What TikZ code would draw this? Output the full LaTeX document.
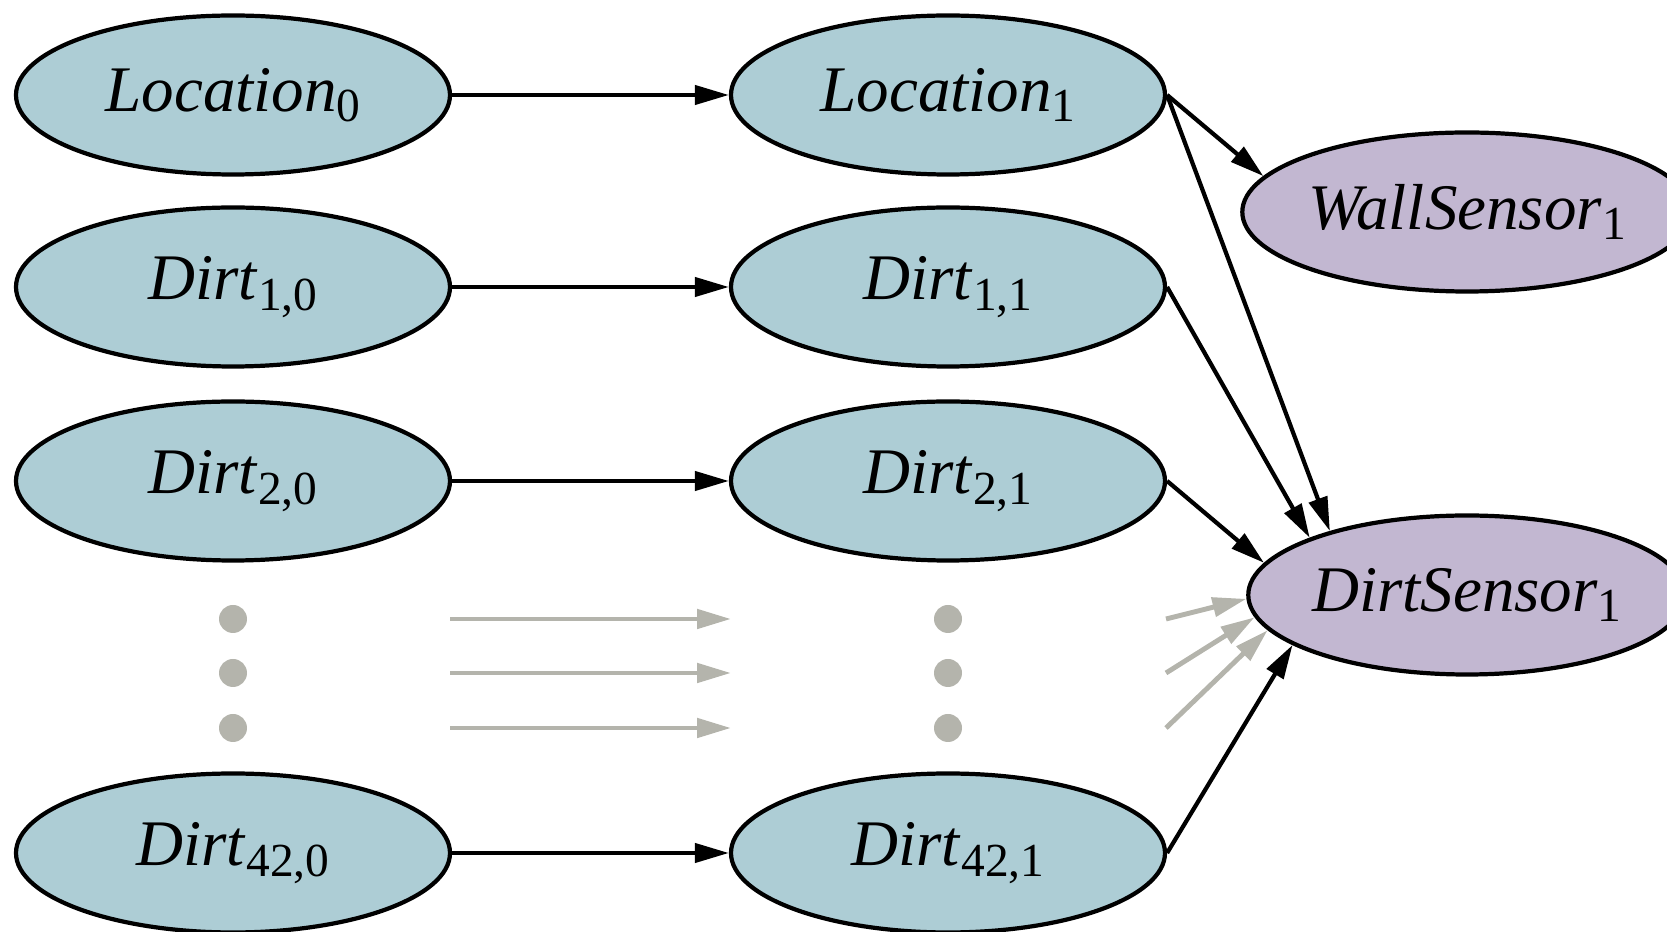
\documentclass[tikz,border=0pt]{standalone}
\usepackage{fontspec}
\setmainfont{Liberation Serif}
\usetikzlibrary{arrows.meta, shapes.geometric}
\definecolor{nodeblue}{RGB}{173,205,213}
\definecolor{nodelilac}{RGB}{194,183,209}
\definecolor{fadegray}{RGB}{180,180,172}
\newcommand{\varlbl}[2]{\textit{#1}\raisebox{-3pt}{\fontsize{13.5}{14}\selectfont #2}}

\begin{document}
\begin{tikzpicture}[font=\fontsize{18.5}{22}\selectfont,
    var/.style={ellipse, draw, line width=1.2pt, fill=nodeblue,
                minimum width=4.34cm, minimum height=1.59cm, inner sep=0pt},
    obs/.style={var, fill=nodelilac},
    edge/.style={-{Triangle[length=3.4mm, width=1.9mm]}, line width=1.2pt},
    faded/.style={edge, fadegray, line width=1.4pt},
    gdot/.style={circle, fill=fadegray, inner sep=0pt, minimum size=0.28cm}]
  \useasboundingbox (0,0) rectangle (16.67,9.32);
  % time slice 0
  \node[var] (loc0) at (2.33, 8.37) {\varlbl{Location}{0}};
  \node[var] (d10) at (2.33, 6.45) {\varlbl{Dirt}{1,0}};
  \node[var] (d20) at (2.33, 4.51) {\varlbl{Dirt}{2,0}};
  \node[var] (d420) at (2.33, 0.79) {\varlbl{Dirt}{42,0}};
  % time slice 1
  \node[var] (loc1) at (9.48, 8.37) {\varlbl{Location}{1}};
  \node[var] (d11) at (9.48, 6.45) {\varlbl{Dirt}{1,1}};
  \node[var] (d21) at (9.48, 4.51) {\varlbl{Dirt}{2,1}};
  \node[var] (d421) at (9.48, 0.79) {\varlbl{Dirt}{42,1}};
  % sensors
  \node[obs] (ws) at (14.67, 7.20) {\varlbl{WallSensor}{1}};
  \node[obs] (ds) at (14.67, 3.37) {\varlbl{DirtSensor}{1}};
  % elided rows
  \foreach \y [count=\i] in {3.13, 2.59, 2.04} {
    \node[gdot] (dotl\i) at (2.33, \y) {};
    \node[gdot] (dotm\i) at (9.48, \y) {};
    \coordinate (gsrc\i) at (4.50, \y);
    \coordinate (gdst\i) at (7.31, \y);
    \coordinate (gout\i) at (11.66, \y);
  }
  % transitions
  \draw[edge] (loc0.east) -- (loc1.west);
  \draw[edge] (d10.east) -- (d11.west);
  \draw[edge] (d20.east) -- (d21.west);
  \draw[edge] (d420.east) -- (d421.west);
  \foreach \i in {1,2,3}
    \draw[faded] (gsrc\i) -- (gdst\i);
  % sensor model
  \draw[edge] (loc1.east) -- (ws.170);
  \draw[edge] (loc1.east) -- (ds.155);
  \draw[edge] (d11.east) -- (ds.160);
  \draw[edge] (d21.east) -- (ds.171);
  \draw[edge] (d421.east) -- (ds.196);
  \draw[faded] (gout1) -- (ds.181);
  \draw[faded] (gout2) -- (ds.186);
  \draw[faded] (gout3) -- (ds.190);
\end{tikzpicture}
\end{document}
